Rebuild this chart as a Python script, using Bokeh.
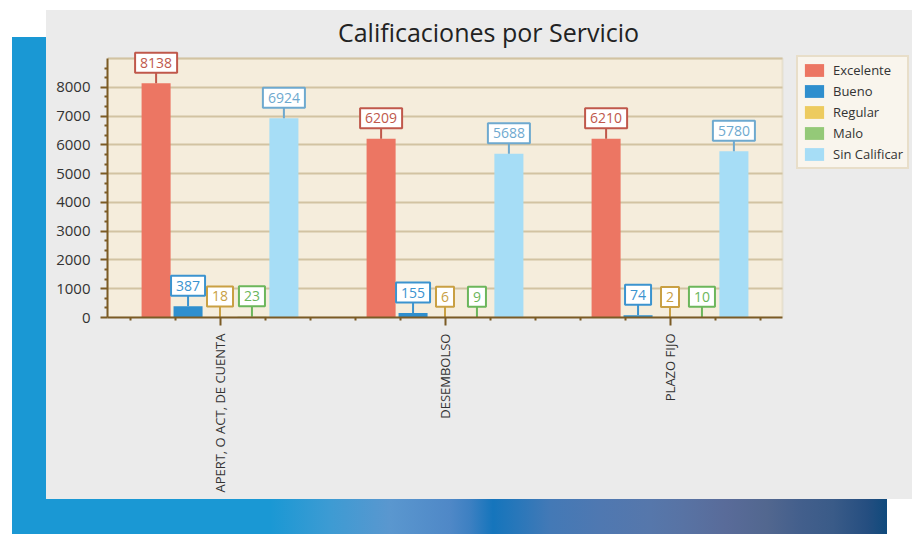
import numpy as np
from bokeh.plotting import figure
from bokeh.models import (ColumnDataSource, FixedTicker, Label, BoxAnnotation,
                          Legend, LegendItem, Range1d, Grid)
from bokeh.embed import file_html
from bokeh.resources import INLINE

# ---------------- data ----------------
categories = ["APERT, O ACT, DE CUENTA", "DESEMBOLSO", "PLAZO FIJO"]
series = ["Excelente", "Bueno", "Regular", "Malo", "Sin Calificar"]
excelente = [8138, 6209, 6210]
bueno = [387, 155, 74]
regular = [18, 6, 2]
malo = [23, 9, 10]
sin_calificar = [6924, 5688, 5780]
values = [excelente, bueno, regular, malo, sin_calificar]
y_ticks = [0, 1000, 2000, 3000, 4000, 5000, 6000, 7000, 8000]
y_top = 9000
title_text = "Calificaciones por Servicio"

# ---------------- styles ----------------
bar_colors = ["#ec7663", "#2f8fce", "#edcb5f", "#94c978", "#a6ddf6"]
label_colors = ["#c0584b", "#3b93cf", "#c9a043", "#6cb65b", "#6ea9cf"]
FONT = "Open Sans"
AXIS_C = "#7b5b25"
GRID_C = "#d2c3a2"
CREAM = "#f5eddc"

W, H = 912, 534
FL = 107            # frame left (px)
FB = 317            # frame bottom (px) = x axis
PX_PER_CAT = 225.0  # px per category
PX_PER_Y = 259.0 / 9000
FW = W - FL
FH = FB

p = figure(width=W, height=H, frame_width=FW, frame_height=FH,
           min_border_left=FL, min_border_top=0,
           min_border_right=0, min_border_bottom=H - FB,
           x_range=Range1d(0, FW / PX_PER_CAT), y_range=Range1d(0, FH / PX_PER_Y),
           output_backend="svg", toolbar_location=None)
p.border_fill_alpha = 0
p.background_fill_alpha = 0
p.outline_line_color = None

# page decorations behind the transparent canvas
grad = ("linear-gradient(to right, #1a98d4 0px, #1a98d4 258px, #3d9bd3 318px, "
        "#5a97cf 378px, #4f88c7 438px, #3d80c2 458px, #1575bc 481px, #2877ba 505px, "
        "#4379b6 538px, #4f78b1 588px, #5677ab 638px, #5873a4 671px, #596b99 715px, "
        "#52678f 755px, #435f8c 788px, #3a5b88 821px, #254e80 855px, #0f4a7c 875px)")
p.styles = {
    "background-color": "#ffffff",
    "background-image": ", ".join([
        "linear-gradient(#ebebeb, #ebebeb)",
        grad,
        "linear-gradient(#1a98d4, #1a98d4)",
    ]),
    "background-position": "46px 10px, 12px 499px, 12px 37px",
    "background-size": "866px 489px, 875px 35px, 34px 497px",
    "background-repeat": "no-repeat",
}

# chart area (cream) with tan border
ncat = len(categories)
p.add_layout(BoxAnnotation(left=0, right=ncat, bottom=0, top=y_top,
                           fill_color=CREAM, fill_alpha=1.0,
                           line_color=GRID_C, line_width=2, level="image"))

# ---------------- axes / grid ----------------
p.xgrid.visible = False
grid_ticks = list(range(1000, y_top + 1, 1000))
if "cross_bounds" in Grid.properties():
    p.ygrid.ticker = FixedTicker(ticks=grid_ticks)
    p.ygrid.cross_bounds = (0, ncat)
    p.ygrid.grid_line_color = GRID_C
    p.ygrid.grid_line_width = 2
else:
    p.ygrid.visible = False
    p.segment(x0=[0] * len(grid_ticks), x1=[ncat] * len(grid_ticks),
              y0=grid_ticks, y1=grid_ticks, line_color=GRID_C, line_width=2,
              level="underlay")

centers = [i + 0.5 for i in range(ncat)]
x_minor = [c + d for c in centers for d in (-0.4, -0.2, 0.2, 0.4)]
p.xaxis.ticker = FixedTicker(ticks=centers, minor_ticks=x_minor)
p.xaxis.major_label_overrides = {c: lab for c, lab in zip(centers, categories)}
p.xaxis.major_label_orientation = np.pi / 2
p.xaxis.major_tick_out = 8
p.xaxis.major_label_standoff = 8
p.xaxis.bounds = (0, ncat)

y_minor = [k * 1000 / 3 for k in range(1, 27) if k % 3]
p.yaxis.ticker = FixedTicker(ticks=y_ticks, minor_ticks=y_minor)
p.yaxis.major_tick_out = 7
p.yaxis.major_label_standoff = 10
p.yaxis.bounds = (0, y_top)

for ax in (p.xaxis[0], p.yaxis[0]):
    ax.axis_line_color = AXIS_C
    ax.axis_line_width = 2
    ax.major_tick_line_color = AXIS_C
    ax.major_tick_line_width = 2
    ax.minor_tick_line_color = AXIS_C
    ax.minor_tick_line_width = 2
    ax.major_tick_in = 0
    ax.minor_tick_in = 0
    ax.minor_tick_out = 3
    ax.major_label_text_font = FONT
    ax.major_label_text_color = "#333333"
p.xaxis.major_label_text_font_size = "13px"
p.yaxis.major_label_text_font_size = "15px"

# ---------------- bars ----------------
offsets = [-0.284, -0.142, 0.0, 0.142, 0.284]
bar_w = 0.129
items = []
for i, (name, vals) in enumerate(zip(series, values)):
    xs = [c + offsets[i] for c in centers]
    src = ColumnDataSource(dict(x=xs, top=vals))
    r = p.vbar(x="x", top="top", width=bar_w, source=src,
               fill_color=bar_colors[i], line_color=None)
    items.append(LegendItem(label=name, renderers=[r]))
    p.ray(x="x", y="top", length=11, length_units="screen", angle=np.pi / 2,
          source=src, line_color=label_colors[i], line_width=2)
    for x, v in zip(xs, vals):
        p.add_layout(Label(x=x, y=v, text=str(v), y_offset=20.5,
                           text_align="center", text_baseline="middle",
                           text_font=FONT, text_font_size="14px",
                           text_color=label_colors[i],
                           background_fill_color="white", background_fill_alpha=1.0,
                           border_line_color=label_colors[i], border_line_width=2,
                           padding=5))

legend = Legend(items=items, location=(796 - FL, FB - 169), orientation="vertical",
                glyph_width=24, glyph_height=16, label_height=16, spacing=3,
                padding=4, margin=0, label_standoff=7,
                label_text_font=FONT, label_text_font_size="13px",
                label_text_color="#333333",
                border_line_color="#d7c8a6", border_line_width=2,
                background_fill_color="#f9f5ed", background_fill_alpha=1.0)
p.add_layout(legend)

# title
p.add_layout(Label(x=488 - FL, y=FB - 31, x_units="screen", y_units="screen",
                   text=title_text, text_align="center", text_baseline="alphabetic",
                   text_font=FONT, text_font_size="25px", text_color="#222222"))

open("out.html", "w").write(file_html(p, INLINE))
